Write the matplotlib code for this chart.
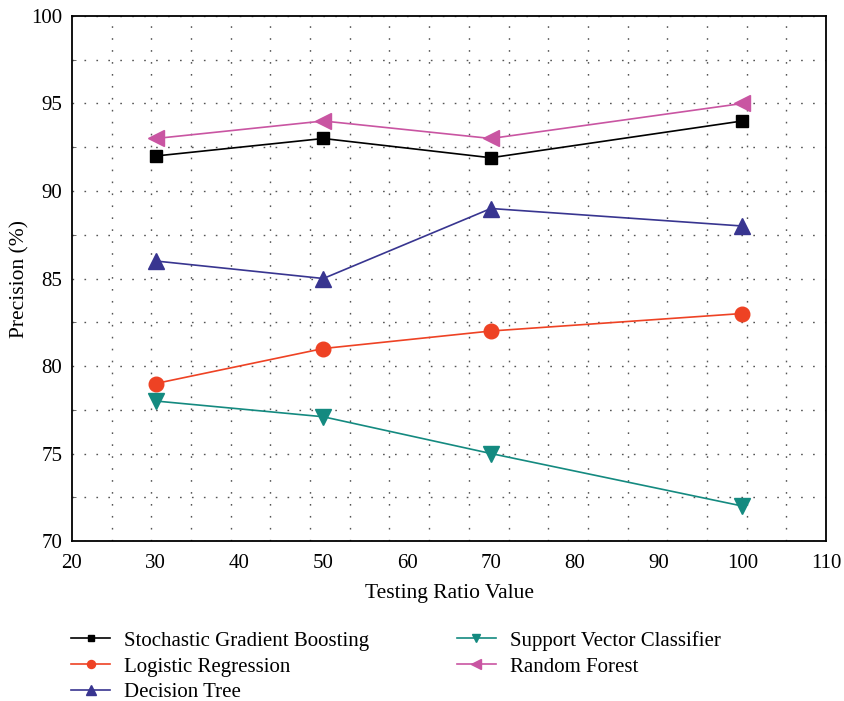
import numpy as np
import matplotlib.pyplot as plt
from matplotlib.ticker import FixedLocator, MultipleLocator

plt.rcParams['font.family'] = ['Liberation Serif', 'DejaVu Serif']

# Data
ratios = [30, 50, 70, 100]
sgb = [92.0, 93.0, 91.9, 94.0]
logreg = [79.0, 81.0, 82.0, 83.0]
dtree = [86.0, 85.0, 89.0, 88.0]
svc = [78.0, 77.1, 75.0, 72.0]
rforest = [93.0, 94.0, 93.0, 95.0]

SERIES = [
    ('Stochastic Gradient Boosting', sgb, '#000000', 's', 9),
    ('Logistic Regression', logreg, '#EE4224', 'o', 10.5),
    ('Decision Tree', dtree, '#383590', '^', 12),
    ('Support Vector Classifier', svc, '#148A80', 'v', 11),
    ('Random Forest', rforest, '#C955A2', '<', 12),
]

fig = plt.figure(figsize=(8.44, 7.01), dpi=100)
ax = fig.add_axes([0.0853, 0.2282, 0.8934, 0.749])

for name, vals, color, marker, ms in SERIES:
    ax.plot(ratios, vals, color=color, lw=1.2, marker=marker, ms=ms,
            label=name, zorder=3)

ax.set_xlim(20, 110)
ax.set_ylim(70, 100)
ax.xaxis.set_major_locator(MultipleLocator(10))
ax.yaxis.set_major_locator(MultipleLocator(5))
# dotted grid: 19 equal divisions across x, 2.5 steps in y
ax.xaxis.set_minor_locator(FixedLocator(np.linspace(20, 110, 20)[1:-1]))
ax.yaxis.set_minor_locator(MultipleLocator(2.5))
dots = dict(color='#555555', lw=1.0, ls=(0, (1.2, 7.4)))
ax.grid(which='minor', **dots)
ax.yaxis.grid(True, which='major', **dots)
ax.tick_params(which='major', length=0, labelsize=15)
ax.tick_params(axis='x', which='major', pad=9)
ax.tick_params(axis='y', which='major', pad=7)
ax.tick_params(which='minor', direction='in', length=3, width=0.6,
               color='#555555', bottom=False, left=True)

for s in ax.spines.values():
    s.set_linewidth(1.3)
    s.set_color('black')

ax.set_xlabel('Testing Ratio Value', fontsize=15.5, labelpad=8)
ax.set_ylabel('Precision (%)', fontsize=15.5)
ax.yaxis.set_label_coords(-0.057, 0.5)

fig.legend(loc='upper left', bbox_to_anchor=(0.074, 0.112), ncol=2,
           frameon=False, fontsize=15, markerscale=0.55, handlelength=1.9,
           handletextpad=0.65, columnspacing=4.2, labelspacing=0.3,
           borderaxespad=0)

fig.savefig('out.png', dpi=100)
